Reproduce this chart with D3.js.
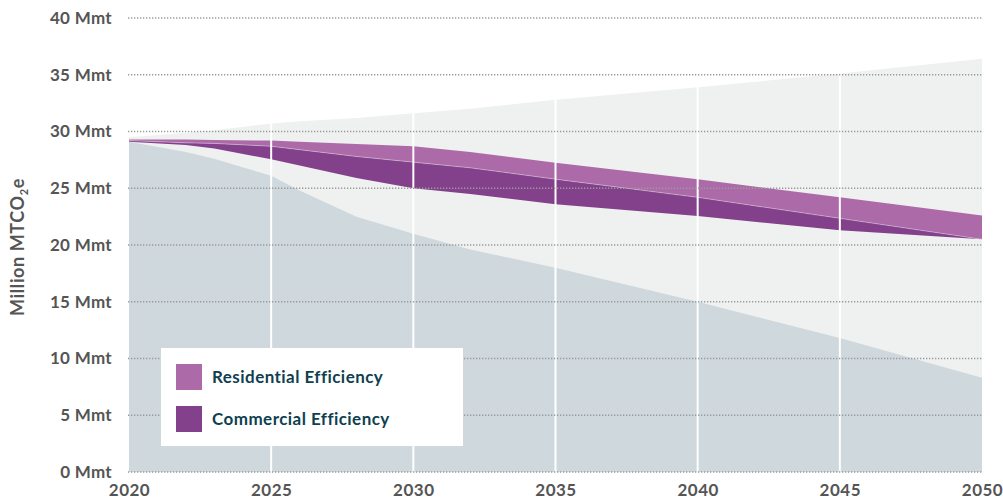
<!DOCTYPE html>
<html>
<head>
<meta charset="utf-8">
<script src="https://cdn.jsdelivr.net/npm/d3@7"></script>
<style>
  body { margin: 0; background: #fff; }
  svg { display: block; font-family: Lato, "Open Sans", sans-serif; }
</style>
</head>
<body>
<svg width="1003" height="503"></svg>
<script>
// years the lines are read at
var years = [2020, 2022, 2023, 2025, 2026, 2028, 2030, 2032, 2035, 2040, 2045, 2050];

// top of the light grey envelope (business as usual)
var bauValues = [29.5, 29.9, 30.1, 30.7, 30.9, 31.2, 31.6, 32.0, 32.8, 33.9, 35.1, 36.4];
// top of residential efficiency band
var residentialTop = [29.3, 29.3, 29.25, 29.2, 29.1, 28.9, 28.7, 28.2, 27.25, 25.8, 24.2, 22.6];
// top of commercial efficiency band
var commercialTop = [29.2, 29.0, 28.95, 28.7, 28.4, 27.8, 27.3, 26.8, 25.8, 24.2, 22.35, 20.5];
// bottom of commercial efficiency band
var commercialBottom = [29.1, 28.8, 28.5, 27.55, 27.0, 25.9, 25.0, 24.5, 23.6, 22.55, 21.3, 20.5];
// remaining emissions (blue grey area)
var remaining = [29.1, 28.2, 27.6, 26.1, 24.8, 22.5, 21.0, 19.6, 18.0, 15.0, 11.8, 8.3];

var yTicks = [0, 5, 10, 15, 20, 25, 30, 35, 40];
var xTicks = [2020, 2025, 2030, 2035, 2040, 2045, 2050];
var legendItems = ["Residential Efficiency", "Commercial Efficiency"];
var legendColors = ["#ad6aa8", "#84418b"];

var svg = d3.select("svg");
var plotLeft = 129, plotRight = 982, plotTop = 18, plotBottom = 472;

var xs = d3.scaleLinear().domain([2020, 2050]).range([plotLeft, plotRight]);
var ys = d3.scaleLinear().domain([0, 40]).range([plotBottom, plotTop]);

var rows = years.map(function(y, i) {
    return {
        year: y,
        bau: bauValues[i],
        res: residentialTop[i],
        com: commercialTop[i],
        comLow: commercialBottom[i],
        rem: remaining[i]
    };
});

function band(hi, lo) {
    return d3.area()
        .x(function(d) { return xs(d.year); })
        .y0(function(d) { return lo ? ys(d[lo]) : ys(0); })
        .y1(function(d) { return ys(d[hi]); });
}

// light grey envelope
svg.append("path").datum(rows)
    .attr("d", band("bau"))
    .attr("fill", "#eff1f0");

// remaining emissions
svg.append("path").datum(rows)
    .attr("d", band("rem"))
    .attr("fill", "#cfd8dd");

// residential band
svg.append("path").datum(rows)
    .attr("d", band("res", "com"))
    .attr("fill", legendColors[0]);

// commercial band
svg.append("path").datum(rows)
    .attr("d", band("com", "comLow"))
    .attr("fill", legendColors[1]);

// faint seam between the two bands
svg.append("path").datum(rows)
    .attr("d", d3.line()
        .x(function(d) { return xs(d.year); })
        .y(function(d) { return ys(d.com); }))
    .attr("fill", "none")
    .attr("stroke", "#fff")
    .attr("stroke-opacity", 0.45)
    .attr("stroke-width", 0.8);

// white verticals
svg.append("g")
    .selectAll("line")
    .data(xTicks.slice(1, -1))
    .enter()
    .append("line")
        .attr("x1", function(d) { return xs(d); })
        .attr("x2", function(d) { return xs(d); })
        .attr("y1", plotTop)
        .attr("y2", plotBottom)
        .attr("stroke", "#fff")
        .attr("stroke-width", 2);

// dotted gridlines
svg.append("g")
    .selectAll("line")
    .data(yTicks)
    .enter()
    .append("line")
        .attr("x1", plotLeft - 1)
        .attr("x2", plotRight)
        .attr("y1", function(d) { return ys(d); })
        .attr("y2", function(d) { return ys(d); })
        .attr("stroke", "#9a9a9a")
        .attr("stroke-width", 1.3)
        .attr("stroke-dasharray", "1.3,1.7");

// y axis labels
var yAxis = d3.axisLeft(ys)
    .tickValues(yTicks)
    .tickSize(0)
    .tickPadding(0)
    .tickFormat(function(d) { return d + " Mmt"; });

var yg = svg.append("g")
    .attr("transform", "translate(112,0)")
    .call(yAxis);
yg.select(".domain").remove();
yg.selectAll("text")
    .attr("font-family", "Lato, sans-serif")
    .style("font-size", "17px")
    .style("font-weight", "bold")
    .style("letter-spacing", "0.3px")
    .attr("fill", "#555");

// x axis labels
var xAxis = d3.axisBottom(xs)
    .tickValues(xTicks)
    .tickSize(0)
    .tickPadding(0)
    .tickFormat(d3.format("d"));

var xg = svg.append("g")
    .attr("transform", "translate(0,484)")
    .call(xAxis);
xg.select(".domain").remove();
xg.selectAll("text")
    .attr("font-family", "Lato, sans-serif")
    .style("font-size", "17px")
    .style("font-weight", "bold")
    .style("letter-spacing", "0.5px")
    .attr("fill", "#555");

// y title
var title = svg.append("text")
    .attr("transform", "translate(24,247) rotate(-90)")
    .attr("text-anchor", "middle")
    .style("font-size", "18px")
    .style("font-weight", "bold")
    .style("letter-spacing", "0.6px")
    .attr("fill", "#555");
title.append("tspan").text("Million MTCO");
title.append("tspan").text("2").attr("dy", 4).style("font-size", "11px");
title.append("tspan").text("e").attr("dy", -4);

// legend
var legend = svg.append("g");
legend.append("rect")
    .attr("x", 161).attr("y", 348)
    .attr("width", 302).attr("height", 98)
    .attr("fill", "#fff");

var li = legend.selectAll("g.item")
    .data(legendItems)
    .enter()
    .append("g")
        .attr("class", "item")
        .attr("transform", function(d, i) { return "translate(176," + (364 + i * 42) + ")"; });
li.append("rect")
    .attr("width", 26).attr("height", 26)
    .attr("fill", function(d, i) { return legendColors[i]; });
li.append("text")
    .attr("x", 36).attr("y", 19)
    .style("font-size", "17px")
    .style("font-weight", "bold")
    .style("letter-spacing", "0.45px")
    .attr("fill", "#0f3f50")
    .text(function(d) { return d; });
</script>
</body>
</html>
